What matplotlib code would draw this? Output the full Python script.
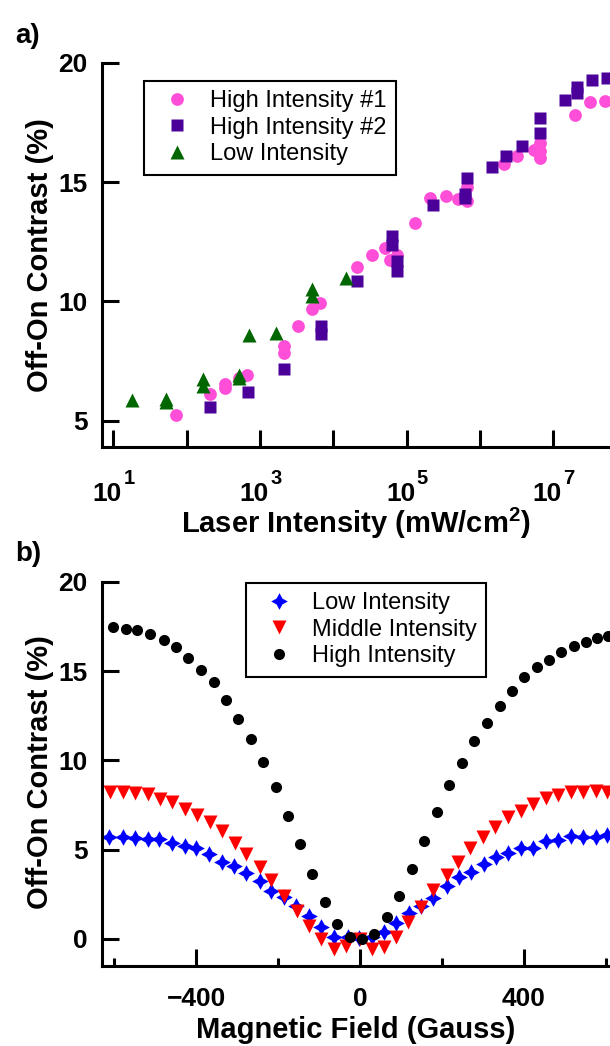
import matplotlib
matplotlib.use("Agg")
import matplotlib.pyplot as plt
import numpy as np
from matplotlib.ticker import FixedLocator, NullLocator, MultipleLocator, NullFormatter

plt.rcParams["font.family"] = ["Liberation Sans", "DejaVu Sans"]
plt.rcParams["font.weight"] = "bold"
plt.rcParams["axes.labelweight"] = "bold"
plt.rcParams["mathtext.fontset"] = "custom"
plt.rcParams["mathtext.rm"] = "Liberation Sans"
plt.rcParams["mathtext.bf"] = "Liberation Sans:bold"
plt.rcParams["mathtext.default"] = "bf"

# ---- panel a: contrast vs laser intensity (mW/cm^2) ----
hi1_x = [3.2e7, 5.1e7, 2.0e7, 6.6e6, 6.6e6, 6.6e6, 5.4e6, 3.2e6, 2.1e6, 6.6e5,
         6.6e5, 5.1e5, 3.4e5, 2.1e5, 1.3e5, 7.4e4, 6.0e4, 5.1e4, 3.4e4, 2.1e4,
         6.6e3, 5.2e3, 3.3e3, 2.1e3, 2.1e3, 660, 510, 330, 330, 210, 72]
hi1_y = [18.37, 18.40, 17.80, 16.64, 16.30, 16.00, 16.35, 16.07, 15.77, 14.19,
         14.80, 14.29, 14.40, 14.33, 13.30, 11.96, 11.75, 12.24, 11.96, 11.43,
         9.92, 9.70, 8.97, 8.13, 7.86, 6.91, 6.81, 6.53, 6.36, 6.11, 5.24]

hi2_x = [5.4e7, 3.4e7, 2.1e7, 2.1e7, 1.45e7, 6.6e6, 6.6e6, 3.7e6, 2.3e6, 1.45e6,
         6.6e5, 6.3e5, 6.3e5, 2.3e5, 6.3e4, 6.3e4, 7.4e4, 7.4e4, 2.1e4, 6.8e3,
         6.8e3, 2.1e3, 680, 210]
hi2_y = [19.35, 19.28, 19.00, 18.72, 18.44, 17.68, 17.05, 16.49, 16.10, 15.65,
         15.17, 14.50, 14.33, 14.02, 12.73, 12.38, 11.68, 11.27, 10.85, 8.97,
         8.62, 7.19, 6.21, 5.56]

low_x = [1.5e4, 5.2e3, 5.2e3, 1.66e3, 720, 520, 520, 166, 166, 52, 52, 18]
low_y = [10.99, 10.53, 10.22, 8.69, 8.59, 6.90, 6.78, 6.77, 6.46, 5.90, 5.77, 5.88]

decade_exps = [1, 3, 5, 7]

# ---- panel b: contrast vs magnetic field (Gauss) ----
low_b_x = [-612, -579, -548, -518, -490, -459, -428, -400, -369, -336, -308,
           -277, -245, -216, -185, -155, -124, -94, -63, -29, -2, 29, 59, 88,
           120, 149, 179, 211, 241, 271, 302, 332, 362, 392, 423, 453, 483,
           514, 545, 575, 602]
low_b_y = [5.69, 5.69, 5.63, 5.60, 5.60, 5.39, 5.20, 5.08, 4.74, 4.33, 4.09,
           3.68, 3.25, 2.69, 2.37, 1.85, 1.29, 0.69, 0.13, 0.13, 0.04, 0.13,
           0.41, 0.88, 1.44, 1.85, 2.28, 2.97, 3.45, 3.77, 4.18, 4.57, 4.83,
           5.08, 5.11, 5.48, 5.54, 5.76, 5.69, 5.69, 5.80]

mid_b_x = [-610, -579, -548, -518, -488, -458, -428, -398, -367, -336, -306,
           -277, -245, -216, -185, -153, -124, -94, -63, -33, 0, 29, 59, 88,
           118, 149, 179, 211, 239, 269, 300, 330, 361, 392, 422, 453, 483,
           514, 545, 575, 602]
mid_b_y = [8.24, 8.21, 8.15, 8.10, 7.83, 7.65, 7.26, 6.94, 6.56, 6.04, 5.39,
           4.74, 4.05, 3.30, 2.41, 1.58, 0.73, 0.00, -0.58, -0.39, 0.00, -0.56,
           -0.47, 0.13, 0.97, 1.81, 2.74, 3.58, 4.33, 5.08, 5.69, 6.28, 6.84,
           7.18, 7.54, 7.87, 8.06, 8.24, 8.24, 8.30, 8.24]

high_b_x = [-602, -571, -543, -512, -477, -450, -420, -388, -357, -328, -298,
            -267, -237, -206, -176, -147, -116, -86, -56, -24, 4, 34, 65, 96,
            127, 157, 188, 218, 249, 279, 310, 341, 371, 400, 431, 461, 491,
            521, 551, 579, 604]
high_b_y = [17.47, 17.36, 17.27, 17.05, 16.71, 16.34, 15.74, 15.04, 14.36,
            13.37, 12.29, 11.19, 9.92, 8.52, 6.88, 5.30, 3.62, 2.05, 0.84,
            0.13, -0.02, 0.28, 1.21, 2.42, 3.92, 5.50, 7.12, 8.62, 9.87, 11.10,
            12.07, 13.04, 13.89, 14.64, 15.24, 15.61, 16.08, 16.39, 16.63,
            16.83, 16.96]

fig = plt.figure(figsize=(6.1, 10.46), dpi=100)
ax_a = fig.add_axes([0.1664, 0.5729, 0.8336, 0.3672])
ax_b = fig.add_axes([0.1664, 0.0768, 0.8336, 0.3671])


def style_axes(ax):
    for side in ("top", "right"):
        ax.spines[side].set_visible(False)
    for side in ("left", "bottom"):
        ax.spines[side].set_linewidth(2.2)
    ax.tick_params(which="major", direction="in", length=12.5, width=2.2,
                   labelsize=19)
    ax.tick_params(which="minor", direction="in", length=6, width=2.2)
    ax.tick_params(axis="x", pad=15)
    ax.tick_params(axis="y", pad=10)


def add_legend(ax, x_px, y_px):
    leg = ax.legend(loc="upper left", bbox_to_anchor=(x_px / 610, 1 - y_px / 1046),
                    bbox_transform=fig.transFigure, borderaxespad=0,
                    fancybox=False, edgecolor="black", framealpha=1,
                    prop={"size": 17, "weight": "normal"}, labelspacing=0.19,
                    handletextpad=0.4, handlelength=2.0, borderpad=0.4)
    leg.get_frame().set_linewidth(1.5)
    return leg


# panel a
ax_a.plot(hi1_x, hi1_y, "o", color="#FF4FD8", ms=9.2, mec="none",
          label="High Intensity #1")
ax_a.plot(hi2_x, hi2_y, "s", color="#4A0099", ms=8.5, mec="none",
          label="High Intensity #2")
ax_a.plot(low_x, low_y, "^", color="#006600", ms=10.5, mec="none",
          label="Low Intensity")
ax_a.set_xscale("log")
ax_a.set_xlim(10 ** 0.839, 10 ** 7.774)
ax_a.set_ylim(3.913, 20)
ax_a.xaxis.set_major_locator(FixedLocator([10.0 ** k for k in range(1, 9)]))
ax_a.xaxis.set_major_formatter(NullFormatter())
ax_a.xaxis.set_minor_locator(NullLocator())
ax_a.set_yticks([5, 10, 15, 20])
style_axes(ax_a)
# decade labels: "10" with a raised exponent
for k in decade_exps:
    ax_a.annotate("10", xy=(10.0 ** k, 0), xycoords=("data", "axes fraction"),
                  xytext=(-4.3, -38.9), textcoords="offset points",
                  ha="center", va="baseline", fontsize=19, annotation_clip=False)
    ax_a.annotate(str(k), xy=(10.0 ** k, 0), xycoords=("data", "axes fraction"),
                  xytext=(7.3, -26.5), textcoords="offset points",
                  ha="left", va="baseline", fontsize=14.5, annotation_clip=False)
ax_a.set_xlabel(r"Laser Intensity (mW/cm$^{2}$)", fontsize=21)
ax_a.xaxis.set_label_coords(0.5, -0.155)
ax_a.set_ylabel("Off-On Contrast (%)", fontsize=21)
ax_a.yaxis.set_label_coords(-0.093, 0.50)
add_legend(ax_a, 144, 80.7)

# panel b
ax_b.plot(low_b_x, low_b_y, marker=(4, 1, 0), ls="none", color="#0000FF",
          ms=12, mec="none", label="Low Intensity")
ax_b.plot(mid_b_x, mid_b_y, "v", color="#FF0000", ms=9.5, mec="none",
          label="Middle Intensity")
ax_b.plot(high_b_x, high_b_y, "o", color="black", ms=8, mec="none",
          label="High Intensity")
ax_b.set_xlim(-630.5, 609.8)
ax_b.set_ylim(-1.494, 20)
ax_b.xaxis.set_major_locator(MultipleLocator(400))
ax_b.xaxis.set_minor_locator(MultipleLocator(200))
ax_b.set_yticks([0, 5, 10, 15, 20])
style_axes(ax_b)
ax_b.set_xlabel("Magnetic Field (Gauss)", fontsize=21, labelpad=4)
ax_b.set_ylabel("Off-On Contrast (%)", fontsize=21)
ax_b.yaxis.set_label_coords(-0.093, 0.503)
add_legend(ax_b, 246, 582.7)

fig.text(15 / 610, 1 - 43 / 1046, "a)", fontsize=20, va="baseline")
fig.text(15 / 610, 1 - 561 / 1046, "b)", fontsize=20, va="baseline")

fig.savefig("out.png", dpi=100)
